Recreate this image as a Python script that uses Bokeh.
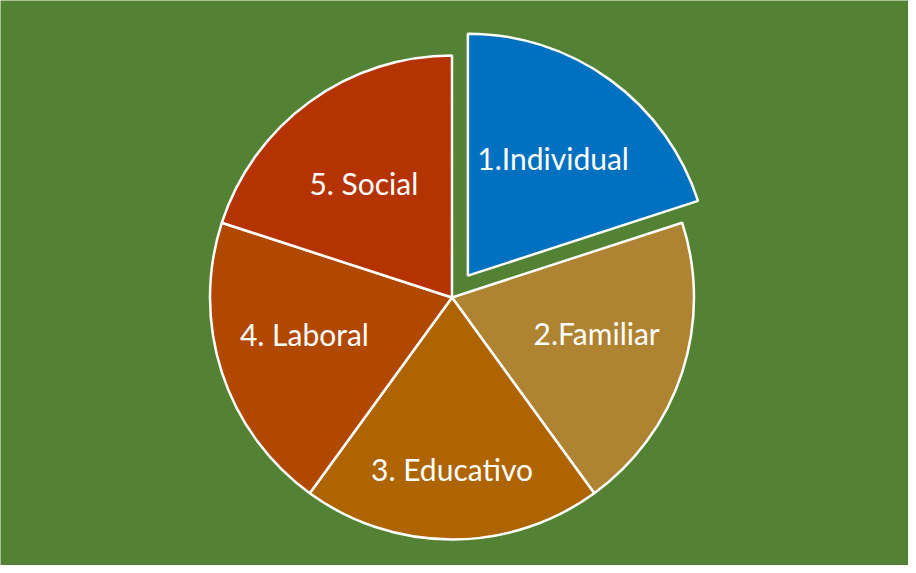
import math
from bokeh.plotting import figure
from bokeh.models import Range1d, ColumnDataSource
from bokeh.core.properties import value
from bokeh.embed import file_html
from bokeh.resources import INLINE

# ---- data ----
categories = ["1.Individual", "2.Familiar", "3. Educativo", "4. Laboral", "5. Social"]
values = [1, 1, 1, 1, 1]
colors = ["#0070C0", "#AE8332", "#AE6400", "#B04800", "#B53300"]
explode = [27, 0, 0, 0, 0]          # px offset of each slice
label_dist = [145, 150, 172, 152, 150]  # label distance from slice apex
label_nudge = [(0, 0), (2, -11), (0, -1), (-3, -10), (0, 7)]

# ---- layout ----
W, H = 908, 565
cx, cy, R = 459.5, -305.0, 242.0
BG = "#548235"

p = figure(width=W, height=H, output_backend="svg", toolbar_location=None,
           x_range=Range1d(8, 8 + W), y_range=Range1d(-8 - H, -8),
           min_border=0)
p.axis.visible = False
p.grid.visible = False
p.outline_line_color = None
p.background_fill_color = BG
p.border_fill_color = BG

total = float(sum(values))
xs, ys, starts, ends, lx, ly = [], [], [], [], [], []
acc = 0.0
for i, v in enumerate(values):
    a0 = acc / total * 360.0
    a1 = (acc + v) / total * 360.0
    acc += v
    mid = math.radians((a0 + a1) / 2.0)   # clockwise from 12 o'clock
    ux, uy = math.sin(mid), math.cos(mid)
    ox, oy = cx + explode[i] * ux, cy + explode[i] * uy
    xs.append(ox); ys.append(oy)
    starts.append(math.radians(90 - a0))
    ends.append(math.radians(90 - a1))
    lx.append(ox + label_dist[i] * ux + label_nudge[i][0])
    ly.append(oy + label_dist[i] * uy - label_nudge[i][1])

src = ColumnDataSource(dict(x=xs, y=ys, start=starts, end=ends, color=colors,
                            lx=lx, ly=ly, label=categories))
p.wedge(x="x", y="y", radius=R, start_angle="start", end_angle="end",
        direction="clock", fill_color="color", line_color="white",
        line_width=2.5, source=src)
p.text(x="lx", y="ly", text="label", source=src, text_color="white",
       text_font=value("Lato"), text_font_size="30px",
       text_align="center", text_baseline="middle")

open("out.html", "w").write(file_html(p, INLINE))
